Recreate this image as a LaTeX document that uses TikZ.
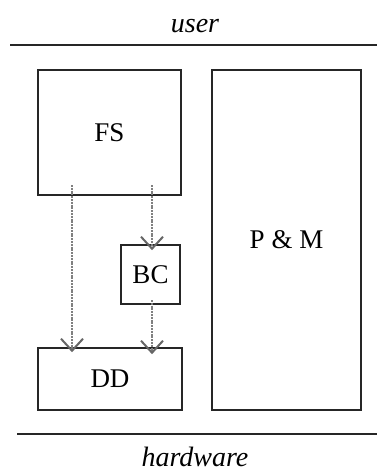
\documentclass[tikz,border=0pt]{standalone}
\usepackage{fontspec}
\setmainfont{Liberation Serif}
\usetikzlibrary{arrows.meta}
\begin{document}
\begin{tikzpicture}[x=1pt,y=-1pt,
  box/.style={draw=black!85,line width=1.6pt,rectangle,inner sep=0pt,font=\fontsize{27}{30}\selectfont},
  layer/.style={font=\fontsize{28}{32}\selectfont\itshape,inner sep=0pt},
  sep/.style={draw=black!85,line width=1.6pt},
  flow/.style={draw=black!50,line width=2.2pt,dash pattern=on 2pt off 0.8pt,
    -{Straight Barb[length=12pt,width=22pt,line width=2pt,sep=0pt,color=black!60]}}]
\useasboundingbox (0,0) rectangle (377,473);
\fill[white] (0,0) rectangle (377,473);
% layer labels and separators
\node[layer] (user) at (195,26) {user};
\coordinate (tl) at (10,45);
\coordinate (tr) at (377,45);
\draw[sep] (tl) -- (tr);
\coordinate (bl) at (17,434);
\coordinate (br) at (377,434);
\draw[sep] (bl) -- (br);
\node[layer] (hw) at (195,457) {hardware};
% boxes
\node[box,minimum width=143pt,minimum height=125pt] (fs) at (109.5,132.5) {FS};
\node[box,minimum width=149pt,minimum height=340pt] (pm) at (286.5,240) {P \& M};
\node[box,minimum width=59pt,minimum height=59pt] (bc) at (150.5,274.5) {BC};
\node[box,minimum width=144pt,minimum height=62pt] (dd) at (110,379) {DD};
% arrows
\coordinate (a1) at (72,185);
\coordinate (a2) at (152,185);
\coordinate (a3) at (152,300);
\draw[flow] (a1) -- ([yshift=-5pt]dd.north -| a1);
\draw[flow] (a2) -- ([yshift=-6pt]bc.north -| a2);
\draw[flow] (a3) -- ([yshift=-7pt]dd.north -| a3);
\end{tikzpicture}
\end{document}
